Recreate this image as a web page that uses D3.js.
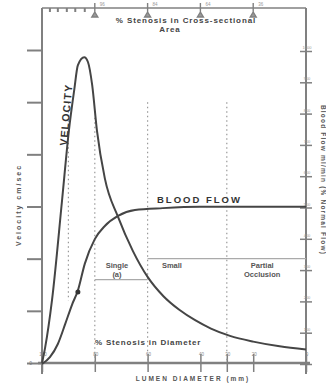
<!DOCTYPE html>
<html>
<head>
<meta charset="utf-8">
<script src="https://cdn.jsdelivr.net/npm/d3@7/dist/d3.min.js"></script>
<style>
  body { margin: 0; background: #fff; }
  svg { display: block; font-family: "Liberation Sans", "DejaVu Sans", sans-serif; }
</style>
</head>
<body>
<div id="chart"></div>
<script>
// lumen diameter (mm) vs velocity (cm/sec)
const velDiam = [0, 0.06, 0.19, 0.38, 0.51, 0.61, 0.68, 0.80, 0.87, 0.95, 1.04, 1.19, 1.44, 1.72, 2.0, 2.3, 2.6, 2.9, 3.2, 3.56, 4.0, 4.5, 5.0];
const velocity = [0, 30, 121, 312, 446, 523, 571, 586, 577, 533, 446, 354, 280, 215, 165, 128, 102, 82, 66, 52, 41, 32, 26];

// lumen diameter (mm) vs blood flow (ml/min)
const flowDiam = [0, 0.15, 0.30, 0.44, 0.57, 0.68, 0.81, 1.0, 1.19, 1.44, 1.76, 2.29, 2.99, 5.0];
const flow = [0, 22, 64, 128, 190, 235, 320, 399, 441, 473, 492, 498, 502, 502];

// marked point on the flow curve: [diameter, flow]
const flowDots = [[0.68, 230]];

const bottomTicks = [0, 1, 2, 3, 3.5, 4, 5];
const bottomTickLabels = ["100", "80", "60", "40", "30", "20", "0"];
const topTicks = [1, 2, 3, 4];
const topTickLabels = ["96", "84", "64", "36"];
const topMinorTicks = [0.15, 0.3, 0.47, 0.63, 0.81];
const velocityTicks = [0, 100, 200, 300, 400, 500, 600];
const flowTicks = [0, 100, 200, 300, 400, 500, 600, 700, 800, 900, 1000];

// guide lines: [diameter, velocity from, velocity to]
const vGuides = [[0.5, 500, 120], [1, 470, 0], [2, 500, 0], [3.5, 500, 0]];
// horizontal guides: [velocity, diameter from, diameter to]
const hGuides = [[160, 1, 2], [200, 2, 5]];

const zoneLabels = [
  { d: 1.42, t: ["Single", "(a)"] },
  { d: 2.46, t: ["Small"] },
  { d: 4.17, t: ["Partial", "Occlusion"] }
];

const W = 326, H = 389;
const margin = { top: 8, right: 20, bottom: 26, left: 42 };
const svg = d3.select("#chart").append("svg").attr("width", W).attr("height", H);

const x = d3.scaleLinear().domain([0, 5]).range([margin.left, W - margin.right]);
const yV = d3.scaleLinear().domain([0, 600]).range([363, 50]);
const yF = d3.scaleLinear().domain([0, 1000]).range([364, 51]);

const ink = "#454545";
const axisInk = "#808080";

// frame lines
svg.append("line").attr("x1", x(0)).attr("x2", x(0)).attr("y1", 8).attr("y2", 374)
  .attr("stroke", axisInk).attr("stroke-width", 2);
svg.append("line").attr("x1", x(5)).attr("x2", x(5)).attr("y1", 8).attr("y2", 374)
  .attr("stroke", axisInk).attr("stroke-width", 2);
svg.append("line").attr("x1", x(0)).attr("x2", x(5)).attr("y1", 8).attr("y2", 8)
  .attr("stroke", axisInk).attr("stroke-width", 1.5);
svg.append("line").attr("x1", x(0) - 4).attr("x2", x(5) + 4).attr("y1", yV(0)).attr("y2", yV(0))
  .attr("stroke", axisInk).attr("stroke-width", 2.5);

// left axis
svg.append("g")
  .attr("transform", `translate(${x(0)},0)`)
  .call(d3.axisLeft(yV).tickValues(velocityTicks).tickSize(15).tickFormat(""))
  .call(g => g.select(".domain").remove())
  .call(g => g.selectAll(".tick line").attr("stroke", axisInk).attr("stroke-width", 2));
svg.append("text").attr("x", x(0) - 10).attr("y", yV(0) + 2)
  .attr("font-size", 5).attr("fill", "#777").attr("text-anchor", "end").text("0");

// right axis
svg.append("g")
  .attr("transform", `translate(${x(5) - 6},0)`)
  .call(d3.axisRight(yF).tickValues(flowTicks).tickSize(12).tickFormat(""))
  .call(g => g.select(".domain").remove())
  .call(g => g.selectAll(".tick line").attr("stroke", axisInk).attr("stroke-width", 1.5));
svg.append("g").selectAll("text").data(flowTicks.filter(d => d > 0)).enter().append("text")
  .attr("x", x(5) + 1).attr("y", d => yF(d) - 2)
  .attr("font-size", 4).attr("fill", "#999").attr("text-anchor", "middle")
  .text(d => d);

// bottom axis ticks
svg.append("g")
  .attr("transform", `translate(0,${yV(0) + 9})`)
  .call(d3.axisBottom(x).tickValues(bottomTicks).tickSize(-18).tickFormat(""))
  .call(g => g.select(".domain").remove())
  .call(g => g.selectAll(".tick line").attr("stroke", axisInk).attr("stroke-width", 1.5));
svg.append("g").selectAll("text").data(bottomTicks).enter().append("text")
  .attr("x", d => x(d) + 1).attr("y", yV(0) - 7)
  .attr("font-size", 4.5).attr("fill", "#888").attr("text-anchor", "middle")
  .text((d, i) => bottomTickLabels[i]);

// top axis
svg.append("g").selectAll("line").data(topMinorTicks).enter().append("line")
  .attr("x1", d => x(d)).attr("x2", d => x(d)).attr("y1", 8).attr("y2", 12)
  .attr("stroke", axisInk).attr("stroke-width", 2);
const topG = svg.append("g").selectAll("g").data(topTicks).enter().append("g")
  .attr("transform", d => `translate(${x(d)},8)`);
topG.append("path").attr("d", "M0,-5 L0,4 M-3,9 L0,4 L3,9 Z")
  .attr("stroke", axisInk).attr("stroke-width", 1.4).attr("fill", "#999");
topG.append("text").attr("y", -2).attr("x", 5).attr("font-size", 4.5).attr("fill", "#999")
  .text((d, i) => topTickLabels[i]);

// guides
svg.append("g").selectAll("line").data(vGuides).enter().append("line")
  .attr("x1", d => x(d[0])).attr("x2", d => x(d[0]))
  .attr("y1", d => yV(d[1])).attr("y2", d => yV(d[2]))
  .attr("stroke", "#999").attr("stroke-width", 1.2).attr("stroke-dasharray", "1.5,3");
svg.append("g").selectAll("line").data(hGuides).enter().append("line")
  .attr("x1", d => x(d[1])).attr("x2", d => x(d[2]))
  .attr("y1", d => yV(d[0])).attr("y2", d => yV(d[0]))
  .attr("stroke", "#aaa").attr("stroke-width", 1.2);

// curves
const vLine = d3.line().x((d, i) => x(velDiam[i])).y(d => yV(d)).curve(d3.curveMonotoneX);
svg.append("path").datum(velocity).attr("d", vLine)
  .attr("fill", "none").attr("stroke", ink).attr("stroke-width", 2);
const fLine = d3.line().x((d, i) => x(flowDiam[i])).y(d => yF(d)).curve(d3.curveMonotoneX);
svg.append("path").datum(flow).attr("d", fLine)
  .attr("fill", "none").attr("stroke", ink).attr("stroke-width", 2);

svg.append("g").selectAll("circle").data(flowDots).enter().append("circle")
  .attr("cx", d => x(d[0])).attr("cy", d => yF(d[1])).attr("r", 2.5).attr("fill", "#333");

// labels
svg.append("text").attr("transform", `translate(67,146) rotate(-85)`)
  .attr("font-size", 10.5).attr("font-weight", "bold").attr("fill", "#333")
  .attr("letter-spacing", 1.2).text("VELOCITY");
svg.append("text").attr("x", 157).attr("y", 203)
  .attr("font-size", 9.5).attr("font-weight", "bold").attr("fill", "#333")
  .attr("letter-spacing", 2).text("BLOOD FLOW");

zoneLabels.forEach(z => {
  z.t.forEach((t, j) => {
    svg.append("text").attr("x", x(z.d)).attr("y", 268 + j * 9)
      .attr("text-anchor", "middle").attr("font-size", 7.5).attr("font-weight", "bold")
      .attr("fill", "#555").text(t);
  });
});

svg.append("text").attr("x", 95).attr("y", 345)
  .attr("font-size", 8).attr("font-weight", "bold").attr("fill", "#444")
  .attr("letter-spacing", 0.8).text("% Stenosis in Diameter");
svg.append("text").attr("x", 186).attr("y", 23).attr("text-anchor", "middle")
  .attr("font-size", 8).attr("font-weight", "bold").attr("fill", "#444")
  .attr("letter-spacing", 0.9).text("% Stenosis in Cross-sectional");
svg.append("text").attr("x", 170).attr("y", 32).attr("text-anchor", "middle")
  .attr("font-size", 8).attr("font-weight", "bold").attr("fill", "#444")
  .attr("letter-spacing", 0.9).text("Area");
svg.append("text").attr("x", 193).attr("y", 381).attr("text-anchor", "middle")
  .attr("font-size", 6.5).attr("font-weight", "bold").attr("fill", "#555")
  .attr("letter-spacing", 2).text("LUMEN DIAMETER (mm)");

svg.append("text").attr("transform", `translate(21,205) rotate(-90)`)
  .attr("text-anchor", "middle").attr("font-size", 7).attr("font-weight", "bold")
  .attr("fill", "#555").attr("letter-spacing", 2).text("Velocity cm/sec");
svg.append("text").attr("transform", `translate(321,180) rotate(90)`)
  .attr("text-anchor", "middle").attr("font-size", 6.5).attr("font-weight", "bold")
  .attr("fill", "#555").attr("letter-spacing", 1.2).text("Blood Flow ml/min   (% Normal Flow)");
</script>
</body>
</html>
